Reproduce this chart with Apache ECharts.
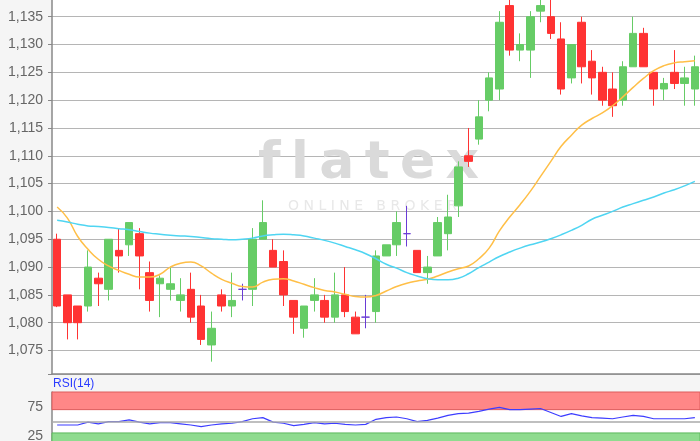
<!DOCTYPE html>
<html>
<head>
<meta charset="utf-8">
<style>
    html, body { margin: 0; padding: 0; background: #f5f5f5; }
    #chart { width: 700px; height: 441px; }
</style>
<script src="https://cdn.jsdelivr.net/npm/echarts@6/dist/echarts.min.js"></script>
</head>
<body>
<div id="chart"></div>
<script>
// Kerzen (open / close / low / high)
var opens  = [1.095, 1.085, 1.083, 1.083, 1.088, 1.086, 1.093, 1.094, 1.096, 1.089,
              1.087, 1.086, 1.084, 1.086, 1.083, 1.076, 1.085, 1.083, 1.086, 1.086,
              1.095, 1.093, 1.091, 1.084, 1.079, 1.084, 1.084, 1.081, 1.085, 1.081,
              1.081, 1.082, 1.092, 1.094, 1.096, 1.093, 1.089, 1.092, 1.096, 1.101,
              1.110, 1.113, 1.120, 1.122, 1.137, 1.129, 1.129, 1.136, 1.135, 1.131,
              1.124, 1.134, 1.127, 1.125, 1.122, 1.120, 1.126, 1.132, 1.125, 1.122,
              1.125, 1.123, 1.122];
var closes = [1.083, 1.080, 1.080, 1.090, 1.087, 1.095, 1.092, 1.098, 1.092, 1.084,
              1.088, 1.087, 1.085, 1.081, 1.077, 1.079, 1.083, 1.084, 1.086, 1.095,
              1.098, 1.090, 1.085, 1.081, 1.083, 1.085, 1.081, 1.085, 1.082, 1.078,
              1.081, 1.092, 1.094, 1.098, 1.096, 1.089, 1.090, 1.098, 1.099, 1.108,
              1.109, 1.117, 1.124, 1.134, 1.129, 1.130, 1.135, 1.137, 1.132, 1.122,
              1.130, 1.126, 1.124, 1.120, 1.119, 1.126, 1.132, 1.126, 1.122, 1.123,
              1.123, 1.124, 1.126];
var lows   = [1.0828, 1.077, 1.077, 1.082, 1.083, 1.084, 1.089, 1.092, 1.086, 1.082,
              1.081, 1.084, 1.082, 1.080, 1.076, 1.073, 1.082, 1.081, 1.084, 1.083,
              1.095, 1.090, 1.083, 1.078, 1.0773, 1.082, 1.080, 1.080, 1.081, 1.078,
              1.079, 1.080, 1.092, 1.092, 1.0937, 1.089, 1.087, 1.092, 1.093, 1.099,
              1.108, 1.112, 1.118, 1.120, 1.128, 1.127, 1.124, 1.134, 1.131, 1.121,
              1.123, 1.123, 1.121, 1.119, 1.117, 1.119, 1.126, 1.126, 1.119, 1.120,
              1.122, 1.119, 1.119];
var highs  = [1.096, 1.085, 1.083, 1.093, 1.089, 1.095, 1.097, 1.098, 1.097, 1.091,
              1.0885, 1.090, 1.088, 1.089, 1.085, 1.082, 1.086, 1.089, 1.087, 1.097,
              1.102, 1.095, 1.093, 1.084, 1.083, 1.088, 1.085, 1.089, 1.090, 1.082,
              1.085, 1.093, 1.094, 1.100, 1.101, 1.093, 1.092, 1.099, 1.103, 1.109,
              1.115, 1.120, 1.125, 1.136, 1.138, 1.132, 1.136, 1.138, 1.138, 1.134,
              1.130, 1.135, 1.129, 1.126, 1.125, 1.127, 1.135, 1.133, 1.125, 1.124,
              1.129, 1.126, 1.128];

// gleitende Durchschnitte
var maShort = [1.1008, 1.0988, 1.0955, 1.0932, 1.0914, 1.0902, 1.0894, 1.0887, 1.0882, 1.0882,
               1.0887, 1.0900, 1.0907, 1.0909, 1.0902, 1.0889, 1.0878, 1.0871, 1.0865, 1.0864,
               1.0873, 1.0878, 1.0879, 1.0875, 1.0869, 1.0863, 1.0858, 1.0855, 1.0851, 1.0847,
               1.0846, 1.0849, 1.0857, 1.0865, 1.0871, 1.0875, 1.0878, 1.0884, 1.0891, 1.0897,
               1.0902, 1.0915, 1.0934, 1.0965, 1.0990, 1.1012, 1.1036, 1.1063, 1.1090, 1.1117,
               1.1137, 1.1155, 1.1167, 1.1177, 1.1190, 1.1206, 1.1223, 1.1239, 1.1253, 1.1262,
               1.1267, 1.1269, 1.1271];
var maLong  = [1.0984, 1.0981, 1.0977, 1.0974, 1.0973, 1.0971, 1.0969, 1.0967, 1.0964, 1.0961,
               1.0959, 1.0957, 1.0956, 1.0955, 1.0953, 1.0951, 1.0950, 1.0949, 1.0950, 1.0952,
               1.0956, 1.0958, 1.0959, 1.0958, 1.0956, 1.0952, 1.0948, 1.0943, 1.0937, 1.0931,
               1.0924, 1.0915, 1.0905, 1.0898, 1.0890, 1.0884, 1.0879, 1.0877, 1.0877, 1.0880,
               1.0888, 1.0899, 1.0909, 1.0919, 1.0927, 1.0934, 1.0940, 1.0945, 1.0951, 1.0958,
               1.0966, 1.0975, 1.0986, 1.0993, 1.1000, 1.1008, 1.1014, 1.1020, 1.1026, 1.1033,
               1.1039, 1.1046, 1.1054];

// RSI(14)
var rsi = [44, 44, 44, 49, 46, 50, 50, 53, 49, 46,
           48, 48, 46, 44, 41, 44, 46, 47, 50, 55,
           57, 49, 47, 43, 45, 48, 46, 47, 45, 44,
           45, 54, 57, 58, 55, 50, 52, 56, 61, 64,
           65, 68, 72, 75, 71, 71, 72, 73, 66, 59,
           64, 60, 57, 56, 55, 58, 61, 59, 55, 55,
           55, 55, 57];

var rsiLabels = [25, 75];
var rsiUpper = 71;
var rsiLower = 30;

var categories = [];
for (var i = 0; i < opens.length; i++) categories.push(String(i + 1));

var candleData = opens.map(function (o, i) {
    return [o, closes[i], lows[i], highs[i]];
});

var myChart = echarts.init(document.getElementById('chart'));

var option = {
    backgroundColor: '#f5f5f5',
    animation: false,
    textStyle: { fontFamily: 'Liberation Sans, Arial, sans-serif' },
    graphic: [
        {
            type: 'text', left: 258, top: 138, z: 1, silent: true,
            style: { text: 'f\u2009l\u2009a\u2009t\u2009e\u2009x', fill: '#dadada', font: 'bold 52px "DejaVu Sans"' }
        },
        {
            type: 'text', left: 288, top: 199, z: 1, silent: true,
            style: { text: 'O N L I N E   B R O K E R', fill: '#e8e8e8', font: '14px "DejaVu Sans"' }
        },
        {
            type: 'text', left: 53, top: 378, silent: true,
            style: { text: 'RSI(14)', fill: '#2b3cff', font: '12px "Liberation Sans"' }
        }
    ],
    grid: [
        { left: 52, right: 0, top: -5, height: 379, outerBoundsMode: 'none',
          show: true, backgroundColor: '#fff', borderWidth: 0 },
        { left: 52, right: 0, top: 392, height: 58, outerBoundsMode: 'none',
          show: true, backgroundColor: '#fff', borderWidth: 0 }
    ],
    xAxis: [
        {
            type: 'category', gridIndex: 0, data: categories, boundaryGap: true,
            axisLine: { lineStyle: { color: '#888', width: 1.5 } },
            axisTick: { show: false }, axisLabel: { show: false }, splitLine: { show: false }
        },
        {
            type: 'category', gridIndex: 1, data: categories, boundaryGap: true,
            axisLine: { show: false }, axisTick: { show: false }, axisLabel: { show: false }
        }
    ],
    yAxis: [
        {
            type: 'value', gridIndex: 0, min: 1.07078, max: 1.1389,
            minInterval: 0.005, maxInterval: 0.005, splitNumber: 13,
            axisLine: { show: true, lineStyle: { color: '#888', width: 1.5 } },
            axisTick: { show: true, length: 4, lineStyle: { color: '#888' } },
            axisLabel: {
                color: '#666', fontSize: 14, margin: 9,
                formatter: function (v) {
                    var k = v / 0.005;
                    if (Math.abs(k - Math.round(k)) > 1e-6) return '';
                    return v.toFixed(3).replace('.', ',');
                }
            },
            splitLine: { lineStyle: { color: '#b5b5b5', width: 1 } }
        },
        {
            type: 'value', gridIndex: 1, min: 0, max: 102, interval: 25,
            axisLine: { show: true, lineStyle: { color: '#888', width: 1.5 } },
            axisTick: { show: false },
            axisLabel: {
                color: '#666', fontSize: 14, margin: 9,
                formatter: function (v) { return rsiLabels.indexOf(v) >= 0 ? String(v) : ''; }
            },
            splitLine: { show: false }
        }
    ],
    series: [
        {
            name: 'Kurs', type: 'candlestick', xAxisIndex: 0, yAxisIndex: 0,
            data: candleData, barWidth: 8, z: 3,
            itemStyle: {
                color: '#66cc66', color0: '#ff3333',
                borderColor: '#66cc66', borderColor0: '#ff3333',
                borderColorDoji: '#6a3bd6', borderWidth: 1
            }
        },
        {
            name: 'MA kurz', type: 'line', xAxisIndex: 0, yAxisIndex: 0,
            data: maShort, smooth: true, symbol: 'none', z: 4,
            lineStyle: { color: '#ffbf47', width: 1.5 }
        },
        {
            name: 'MA lang', type: 'line', xAxisIndex: 0, yAxisIndex: 0,
            data: maLong, smooth: true, symbol: 'none', z: 4,
            lineStyle: { color: '#4fd5f2', width: 1.5 }
        },
        {
            name: 'RSI', type: 'line', xAxisIndex: 1, yAxisIndex: 1,
            data: rsi, symbol: 'none', z: 4,
            lineStyle: { color: '#3d3dff', width: 1.2 },
            markArea: {
                silent: true,
                data: [
                    [{ yAxis: rsiUpper, itemStyle: { color: '#ff8787', borderColor: '#dd5c5c', borderWidth: 1 } }, { yAxis: 102 }],
                    [{ yAxis: 0, itemStyle: { color: '#8fdb8f', borderColor: '#5cb85c', borderWidth: 1 } }, { yAxis: rsiLower }]
                ]
            },
            markLine: {
                silent: true, symbol: 'none', label: { show: false },
                lineStyle: { color: '#aaa', type: 'solid', width: 1.5 },
                data: [{ yAxis: 50 }]
            }
        }
    ]
};

myChart.setOption(option);
</script>
</body>
</html>
